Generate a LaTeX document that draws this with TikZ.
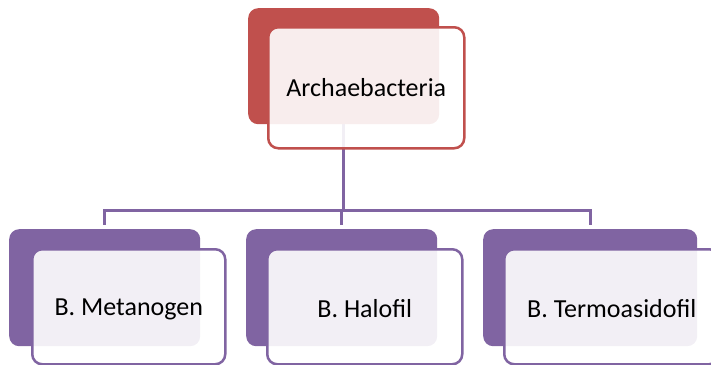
\documentclass[tikz,border=0pt]{standalone}
\usepackage{fontspec}
\setmainfont{Carlito}
\usetikzlibrary{calc}
\pgfdeclarelayer{bg}
\pgfsetlayers{bg,main}
\definecolor{accred}{HTML}{C0504D}
\definecolor{accpurple}{HTML}{8064A2}
\tikzset{
  backbox/.style={rounded corners=10pt, anchor=north west, inner sep=0pt},
  frontbox/.style={rounded corners=10pt, anchor=north west, fill=white,
    fill opacity=0.9, text opacity=1, line width=2.5pt, inner sep=0pt,
    font=\fontsize{26}{30}\selectfont},
  redback/.style={backbox, fill=accred},
  redfront/.style={frontbox, draw=accred},
  purpleback/.style={backbox, fill=accpurple},
  purplefront/.style={frontbox, draw=accpurple},
  conn/.style={draw=accpurple, line width=3pt}
}
\begin{document}
\begin{tikzpicture}[x=1pt, y=-1pt]
\useasboundingbox (0,0) rectangle (711,364);
% root
\node[redback, minimum width=191pt, minimum height=116pt] (rootback) at (248,8) {};
\node[redfront, minimum width=196pt, minimum height=121pt] (root) at (267,26) {Archaebacteria};
% children
\node[purpleback, minimum width=191pt, minimum height=117pt] (c1back) at (9,229) {};
\node[purplefront, minimum width=193pt, minimum height=115pt, text height=22pt] (c1) at (31,248) {B. Metanogen};
\node[purpleback, minimum width=191pt, minimum height=117pt] (c2back) at (246,229) {};
\node[purplefront, minimum width=195pt, minimum height=115pt, text height=22pt] (c2) at (266,248) {B. Halofil};
\node[purpleback, minimum width=214pt, minimum height=117pt] (c3back) at (483,229) {};
\node[purplefront, minimum width=215pt, minimum height=115pt, text height=22pt] (c3) at (503,248) {B. Termoasidofil};
% connectors
\coordinate (bus) at (0,210);
\begin{pgfonlayer}{bg}
\draw[conn] (rootback.south) -- (rootback.south |- bus);
\draw[conn, shorten >=4pt] (c1back.north |- bus) -- (c1back.north);
\draw[conn, shorten >=4pt] (c2back.north |- bus) -- (c2back.north);
\draw[conn, shorten >=4pt] (c3back.north |- bus) -- (c3back.north);
\draw[conn, line cap=rect] (c1back.north |- bus) -- (c3back.north |- bus);
\end{pgfonlayer}
\end{tikzpicture}
\end{document}
